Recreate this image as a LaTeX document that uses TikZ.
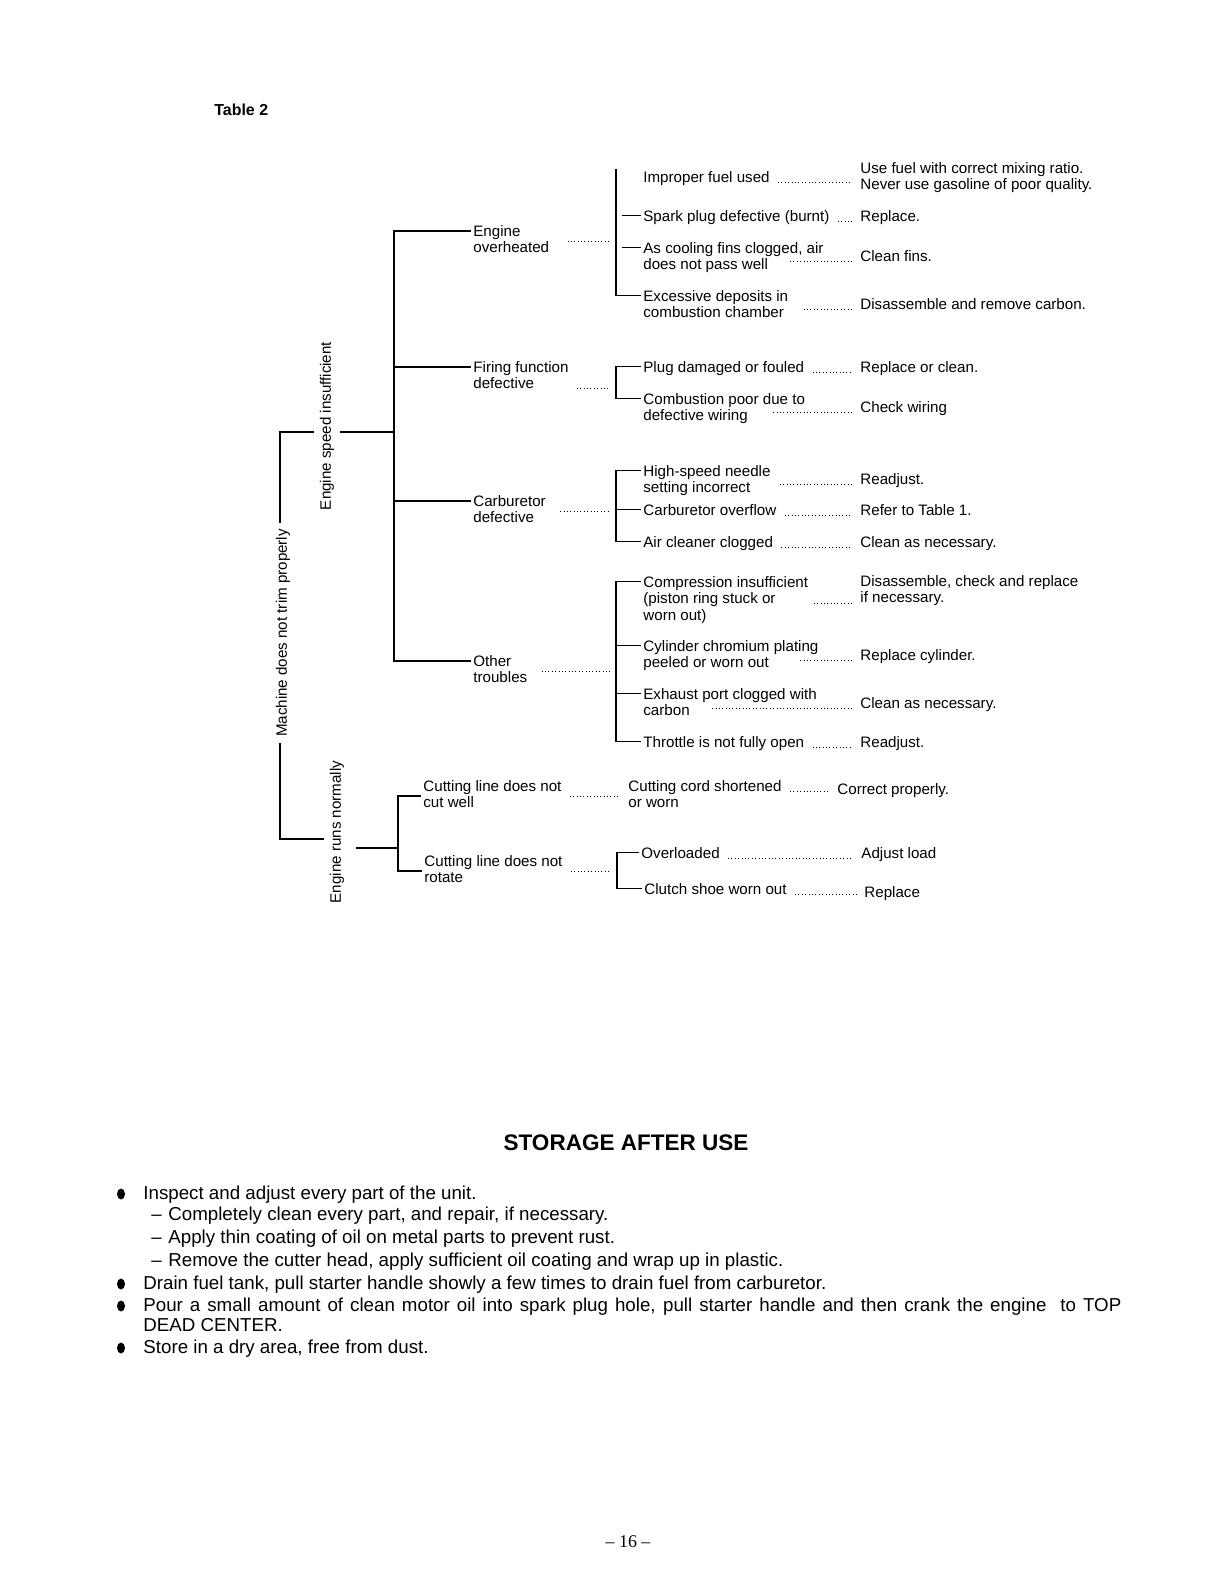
\documentclass[tikz,border=0pt]{standalone}
\usepackage{fontspec}
\setmainfont{Liberation Sans}
\newfontfamily\pagefont{Liberation Serif}
\usetikzlibrary{calc}
\newcommand\dgfont{\fontsize{7.6}{8.4}\selectfont}
\newcommand\txfont{\fontsize{9.4}{11}\selectfont}
\newcommand\stk[1]{\begin{tabular}[t]{@{}l@{}}#1\end{tabular}}
\begin{document}
\begin{tikzpicture}[x=0.5bp,y=-0.5bp,
  tree/.style={font=\dgfont,inner sep=1pt,anchor=base west},
  vlab/.style={font=\dgfont,rotate=90,inner sep=3pt},
  body/.style={font=\txfont,inner sep=0pt,anchor=base west},
  trunk/.style={line width=0.9pt},
  br/.style={line width=0.6pt},
  leader/.style={line width=0.5pt,dash pattern=on 0.5pt off 1.2pt,shorten <=3pt,shorten >=3pt}]
\useasboundingbox (0,0) rectangle (1224,1584);

\node[anchor=base west,inner sep=0pt,font=\bfseries\fontsize{8}{9}\selectfont] (tab) at (214,115) {Table 2};

\coordinate (top) at (280,432);
\coordinate (bot) at (280,839);
\coordinate (spine) at (394,432);
\coordinate (sx) at (394,0);
\coordinate (bx) at (616,0);
\coordinate (nx) at (398,0);
\coordinate (nj) at (398,848);
\coordinate (mx) at (617,0);

\node[vlab] (machine) at (283,633) {Machine does not trim properly};
\node[vlab] (slow) at (327,426) {Engine speed insufficient};
\node[vlab] (normal) at (337,832) {Engine runs normally};
\draw[trunk] (slow.north |- top) -- (top) -- (machine.east -| top);
\draw[trunk] (machine.west -| bot) -- (bot) -- (normal.north |- bot);
\draw[trunk] (slow.south |- spine) -- (spine);
\draw[trunk,shorten <=3pt] (normal.south |- nj) -- (nj);

\node[tree] (oh) at (471,236) {\stk{Engine\\overheated}};
\node[tree] (ff) at (471,372) {\stk{Firing function\\defective}};
\node[tree] (cb) at (471,506) {\stk{Carburetor\\defective}};
\node[tree] (ot) at (471,666) {\stk{Other\\troubles}};
\draw[trunk] (oh.mid west) -| (ot.mid west -| sx) -- (ot.mid west);
\draw[trunk] (ff.mid west -| sx) -- (ff.mid west);
\draw[trunk] (cb.mid west -| sx) -- (cb.mid west);
\draw[leader,shorten <=8pt] (oh.east) -- (oh.east -| bx);
\draw[leader] ($(ff.base east)+(0,16)$) -- ($(ff.base east -| bx)+(0,16)$);
\draw[leader,shorten <=6pt] (cb.east) -- (cb.east -| bx);
\draw[leader,shorten <=6pt] (ot.east) -- (ot.east -| bx);

\node[tree] (e1) at (641,182) {Improper fuel used};
\node[tree] (e2) at (641,221) {Spark plug defective (burnt)};
\node[tree] (e3) at (641,253) {\stk{As cooling fins clogged, air\\does not pass well}};
\node[tree] (e4) at (641,301) {\stk{Excessive deposits in\\combustion chamber}};
\draw[br] (e1.north west -| bx) -- (e4.mid west -| bx) -- (e4.mid west);
\draw[br,shorten <=3pt] (e2.mid west -| bx) -- (e2.mid west);
\draw[br,shorten <=3pt] (e3.mid west -| bx) -- (e3.mid west);
\node[tree] (r1) at (858,173) {\stk{Use fuel with correct mixing ratio.\\Never use gasoline of poor quality.}};
\node[tree] (r2) at (858,221) {Replace.};
\node[tree] (r3) at (858,261) {Clean fins.};
\node[tree] (r4) at (858,309) {Disassemble and remove carbon.};
\draw[leader] (e1.base east) -- (e1.base east -| r1.west);
\draw[leader] (e2.base east) -- (r2.base west);
\draw[leader] (r3.base west) -- ++(-76,0);
\draw[leader] (r4.base west) -- ++(-62,0);

\node[tree] (f1) at (641,372) {Plug damaged or fouled};
\node[tree] (f2) at (641,404) {\stk{Combustion poor due to\\defective wiring}};
\draw[br] (f1.mid west) -- (f1.mid west -| bx) -- (f2.mid west -| bx) -- (f2.mid west);
\node[tree] (r5) at (858,372) {Replace or clean.};
\node[tree] (r6) at (858,412) {Check wiring};
\draw[leader] (f1.base east) -- (r5.base west);
\draw[leader] (r6.base west) -- ++(-92,0);

\node[tree] (c1) at (641,476) {\stk{High-speed needle\\setting incorrect}};
\node[tree] (c2) at (641,515) {Carburetor overflow};
\node[tree] (c3) at (641,547) {Air cleaner clogged};
\draw[br] (c1.mid west) -- (c1.mid west -| bx) -- (c3.mid west -| bx) -- (c3.mid west);
\draw[br] (c2.mid west -| bx) -- (c2.mid west);
\node[tree] (r7) at (858,484) {Readjust.};
\node[tree] (r8) at (858,515) {Refer to Table 1.};
\node[tree] (r9) at (858,547) {Clean as necessary.};
\draw[leader] (r7.base west) -- ++(-85,0);
\draw[leader] (c2.base east) -- (r8.base west);
\draw[leader] (c3.base east) -- (r9.base west);

\node[tree] (o1) at (641,587) {\stk{Compression insufficient\\(piston ring stuck or\\worn out)}};
\node[tree] (o2) at (641,651) {\stk{Cylinder chromium plating\\peeled or worn out}};
\node[tree] (o3) at (641,699) {\stk{Exhaust port clogged with\\carbon}};
\node[tree] (o4) at (641,747) {Throttle is not fully open};
\draw[br] (o1.mid west) -- (o1.mid west -| bx) -- (o4.mid west -| bx) -- (o4.mid west);
\draw[br] (o2.mid west -| bx) -- (o2.mid west);
\draw[br] (o3.mid west -| bx) -- (o3.mid west);
\node[tree] (r10) at (858,586) {\stk{Disassemble, check and replace\\if necessary.}};
\node[tree] (r11) at (858,660) {Replace cylinder.};
\node[tree] (r12) at (858,708) {Clean as necessary.};
\node[tree] (r13) at (858,747) {Readjust.};
\draw[leader] ($(r10.base west)+(0,17)$) -- ++(-52,0);
\draw[leader] (r11.base west) -- ++(-66,0);
\draw[leader] (r12.base west) -- ++(-152,0);
\draw[leader] (o4.base east) -- (r13.base west);

\node[tree] (n1) at (421,791) {\stk{Cutting line does not\\cut well}};
\node[tree] (n2) at (422,866) {\stk{Cutting line does not\\rotate}};
\draw[br] (n1.west) -- (n1.west -| nx) -- (n2.west -| nx) -- (n2.west);
\node[tree] (k1) at (626,791) {\stk{Cutting cord shortened\\or worn}};
\node[tree] (q1) at (835,794) {Correct properly.};
\draw[leader] (n1.east) -- (k1.west);
\draw[leader] (k1.base east) -- (k1.base east -| q1.west);
\draw[leader] (n2.east) -- (n2.east -| mx);
\node[tree] (m1) at (639,858) {Overloaded};
\node[tree] (m2) at (642,894) {Clutch shoe worn out};
\draw[br] (m1.mid west) -- (m1.mid west -| mx) -- (m2.mid west -| mx) -- (m2.mid west);
\node[tree] (p1) at (859,858) {Adjust load};
\node[tree] (p2) at (862,897) {Replace};
\draw[leader] (m1.base east) -- (p1.base west);
\draw[leader] (m2.base east) -- (m2.base east -| p2.west);

\node[font=\bfseries\fontsize{11.3}{13}\selectfont] (title) at (626,1143) {STORAGE AFTER USE};
\node[body] (s1) at (143,1199) {Inspect and adjust every part of the unit.};
\node[body] (s2) at (151,1220) {\makebox[8.5bp][l]{–}Completely clean every part, and repair, if necessary.};
\node[body] (s3) at (151,1243) {\makebox[8.5bp][l]{–}Apply thin coating of oil on metal parts to prevent rust.};
\node[body] (s4) at (151,1266) {\makebox[8.5bp][l]{–}Remove the cutter head, apply sufficient oil coating and wrap up in plastic.};
\node[body] (s5) at (143,1289) {Drain fuel tank, pull starter handle showly a few times to drain fuel from carburetor.};
\node[body] (s6) at (143,1311) {\makebox[489bp][s]{Pour a small amount of clean motor oil into spark plug hole, pull starter handle and then crank the engine \ to TOP}};
\node[body] (s7) at (143,1331) {DEAD CENTER.};
\node[body] (s8) at (143,1353) {Store in a dry area, free from dust.};
\foreach \y in {1194,1284,1306,1348}
  \fill (121,\y) ellipse [x radius=4, y radius=5.5];

\node[font=\pagefont\fontsize{9}{10}\selectfont] (pg) at (628,1542) {– 16 –};
\end{tikzpicture}
\end{document}
